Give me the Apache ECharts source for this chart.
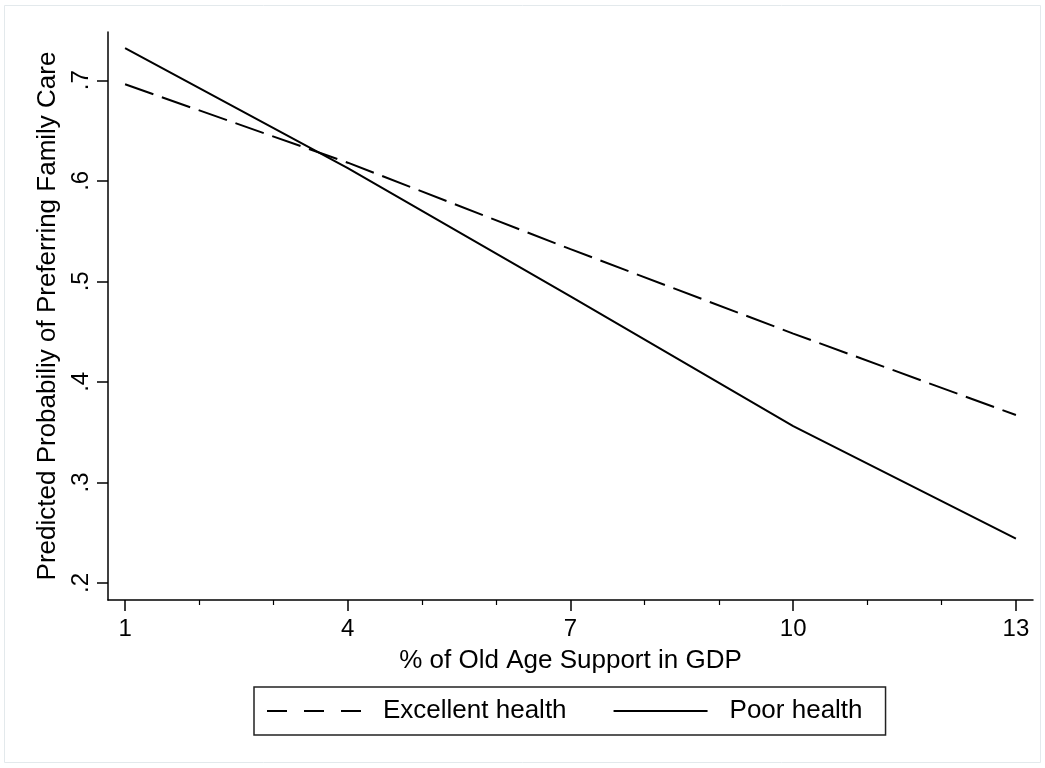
<!DOCTYPE html>
<html>
<head>
<meta charset="utf-8">
<script src="https://cdn.jsdelivr.net/npm/echarts@6/dist/echarts.min.js"></script>
<style>
html,body{margin:0;padding:0;background:#fff;}
#chart{width:1045px;height:768px;}
</style>
</head>
<body>
<div id="chart"></div>
<script>
// ---- data ----
const xValues = [1, 4, 7, 10, 13];
const excellentHealth = [0.696, 0.618, 0.532, 0.448, 0.367];
const poorHealth = [0.732, 0.6125, 0.485, 0.356, 0.244];
const xMajorTicks = [1, 4, 7, 10, 13];
const xMinorTicks = [2, 3, 5, 6, 8, 9, 11, 12];
const yTicks = [0.2, 0.3, 0.4, 0.5, 0.6, 0.7];
const seriesNames = ['Excellent health', 'Poor health'];
const xTitle = '% of Old Age Support in GDP';
const yTitle = 'Predicted Probabiliy of Preferring Family Care';

const FONT = '"Liberation Sans", Arial, Helvetica, sans-serif';
const chart = echarts.init(document.getElementById('chart'));

function pairs(ys) { return xValues.map((x, i) => [x, ys[i]]); }

const option = {
  backgroundColor: '#fff',
  animation: false,
  textStyle: { fontFamily: FONT, color: '#000' },
  graphic: [{
    type: 'rect', silent: true,
    shape: { x: 4.5, y: 5.5, width: 1036, height: 757 },
    style: { fill: 'none', stroke: '#e3e9ec', lineWidth: 1 }
  }],
  grid: { left: 108, right: 12, top: 32, bottom: 168 },
  xAxis: [{
    type: 'value', position: 'bottom', min: 0.77, max: 13.23,
    name: xTitle, nameLocation: 'middle', nameGap: 48,
    nameTextStyle: { fontSize: 26, color: '#000', fontFamily: FONT },
    axisLine: { show: true, onZero: false, lineStyle: { color: '#000', width: 1.5 } },
    axisTick: { show: true, customValues: xMajorTicks, length: 11, lineStyle: { color: '#000', width: 1.5 } },
    axisLabel: { show: true, customValues: xMajorTicks, fontSize: 24, color: '#000', margin: 17, fontFamily: FONT },
    splitLine: { show: false }
  }, {
    type: 'value', position: 'bottom', min: 0.77, max: 13.23,
    axisLine: { show: false, onZero: false },
    axisTick: { show: true, customValues: xMinorTicks, length: 5, lineStyle: { color: '#000', width: 1.2 } },
    axisLabel: { show: false },
    splitLine: { show: false }
  }],
  yAxis: {
    type: 'value', min: 0.183, max: 0.748,
    name: yTitle, nameLocation: 'middle', nameGap: 45, nameRotate: 90,
    nameTextStyle: { fontSize: 26, color: '#000', fontFamily: FONT },
    axisLine: { show: true, onZero: false, lineStyle: { color: '#000', width: 1.5 } },
    axisTick: { show: true, customValues: yTicks, length: 11, lineStyle: { color: '#000', width: 1.5 } },
    axisLabel: {
      show: true, customValues: yTicks, rotate: 90, fontSize: 24, color: '#000', margin: 15, fontFamily: FONT,
      formatter: v => String(+v.toFixed(2)).replace(/^0\./, '.')
    },
    splitLine: { show: false }
  },
  legend: {
    left: 254, top: 687,
    orient: 'horizontal',
    padding: [11, 23, 11, 12],
    itemWidth: 94, itemHeight: 20, itemGap: 46,
    borderColor: '#222', borderWidth: 1.5, borderRadius: 0,
    textStyle: { fontSize: 26, color: '#000', fontFamily: FONT, padding: [0, 0, 0, 17] },
    data: [
      { name: seriesNames[0], itemStyle: { opacity: 0 }, lineStyle: { type: [20, 17], width: 2, color: '#000', opacity: 1 } },
      { name: seriesNames[1], itemStyle: { opacity: 0 }, lineStyle: { type: 'solid', width: 2, color: '#000', opacity: 1 } }
    ]
  },
  series: [{
    name: seriesNames[0], type: 'line', data: pairs(excellentHealth),
    symbol: 'none', smooth: false,
    lineStyle: { color: '#000', width: 2, type: [30, 9], cap: 'butt' },
    itemStyle: { color: '#000' }
  }, {
    name: seriesNames[1], type: 'line', data: pairs(poorHealth),
    symbol: 'none', smooth: false,
    lineStyle: { color: '#000', width: 2, type: 'solid' },
    itemStyle: { color: '#000' }
  }]
};
chart.setOption(option);
</script>
</body>
</html>
